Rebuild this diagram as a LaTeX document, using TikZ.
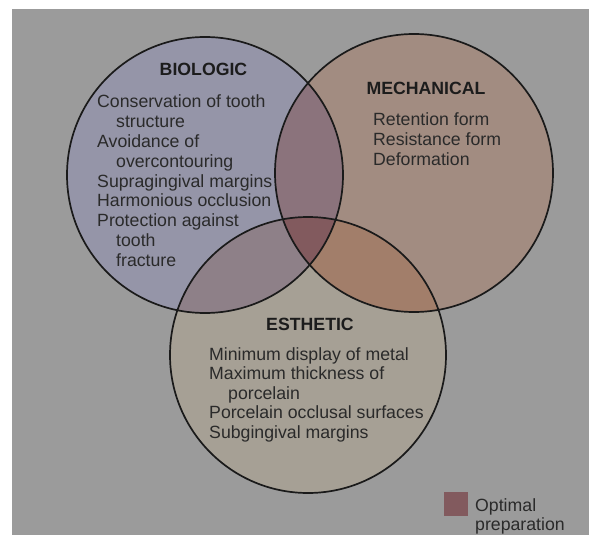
\documentclass[tikz,border=0pt]{standalone}
\usepackage{fontspec}
\setmainfont{Liberation Sans}
\definecolor{bgc}{HTML}{9B9B9B}
\definecolor{bioc}{HTML}{9595A8}
\definecolor{mechc}{HTML}{A28C81}
\definecolor{esthc}{HTML}{A6A095}
\definecolor{bmc}{HTML}{8B737C}
\definecolor{bec}{HTML}{8E8088}
\definecolor{mec}{HTML}{A27E6A}
\definecolor{bmec}{HTML}{825A5E}
\definecolor{txtc}{HTML}{2A2A2A}
\definecolor{ttlc}{HTML}{1C1C1C}
\definecolor{linec}{HTML}{1A1A1A}
\begin{document}
\begin{tikzpicture}[x=1pt,y=-1pt,
  every node/.style={inner sep=0pt, font=\fontsize{17.7}{19.8}\selectfont},
  item/.style={anchor=base west, text=txtc},
  ttl/.style={anchor=base, text=ttlc, font=\fontsize{17.7}{19.8}\selectfont\bfseries},
  ring/.style={draw=linec, line width=1.7pt}]
\useasboundingbox (0,0) rectangle (589,535);
\clip (0,0) rectangle (589,535);
\fill[white] (0,0) rectangle (589,535);
\fill[bgc] (12,9) rectangle (589,535);
\def\bio{(205,175) circle (138)}
\def\mech{(414,173) circle (139)}
\def\esth{(308,355) circle (138)}
% single fills
\fill[bioc] \bio;
\fill[mechc] \mech;
\fill[esthc] \esth;
% pairwise
\begin{scope}\clip \bio; \fill[bmc] \mech;\end{scope}
\begin{scope}\clip \bio; \fill[bec] \esth;\end{scope}
\begin{scope}\clip \mech; \fill[mec] \esth;\end{scope}
\begin{scope}\clip \bio; \clip \mech; \fill[bmec] \esth;\end{scope}
% outlines
\draw[ring] \bio;
\draw[ring] \mech;
\draw[ring] \esth;
% BIOLOGIC
\node[ttl] (tbio) at (203.5,76) {BIOLOGIC};
\node[item] (b1) at (97,107) {Conservation of tooth};
\node[item] (b2) at (116,127) {structure};
\node[item] (b3) at (97,147) {Avoidance of};
\node[item] (b4) at (116,167) {overcontouring};
\node[item] (b5) at (97,187) {Supragingival margins};
\node[item] (b6) at (97,206) {Harmonious occlusion};
\node[item] (b7) at (97,226) {Protection against};
\node[item] (b8) at (116,246) {tooth};
\node[item] (b9) at (116,266) {fracture};
% MECHANICAL
\node[ttl] (tmech) at (426,95) {MECHANICAL};
\node[item] (m1) at (373,125) {Retention form};
\node[item] (m2) at (373,145) {Resistance form};
\node[item] (m3) at (373,165) {Deformation};
% ESTHETIC
\node[ttl] (testh) at (310,330) {ESTHETIC};
\node[item] (e1) at (209,360) {Minimum display of metal};
\node[item] (e2) at (209,379.5) {Maximum thickness of};
\node[item] (e3) at (228,399) {porcelain};
\node[item] (e4) at (209,418.5) {Porcelain occlusal surfaces};
\node[item] (e5) at (209,438) {Subgingival margins};
% legend
\fill[bmec] (444,492) rectangle (468,516);
\node[item] (l1) at (475,511) {Optimal};
\node[item] (l2) at (475,530.5) {preparation};
\end{tikzpicture}
\end{document}
